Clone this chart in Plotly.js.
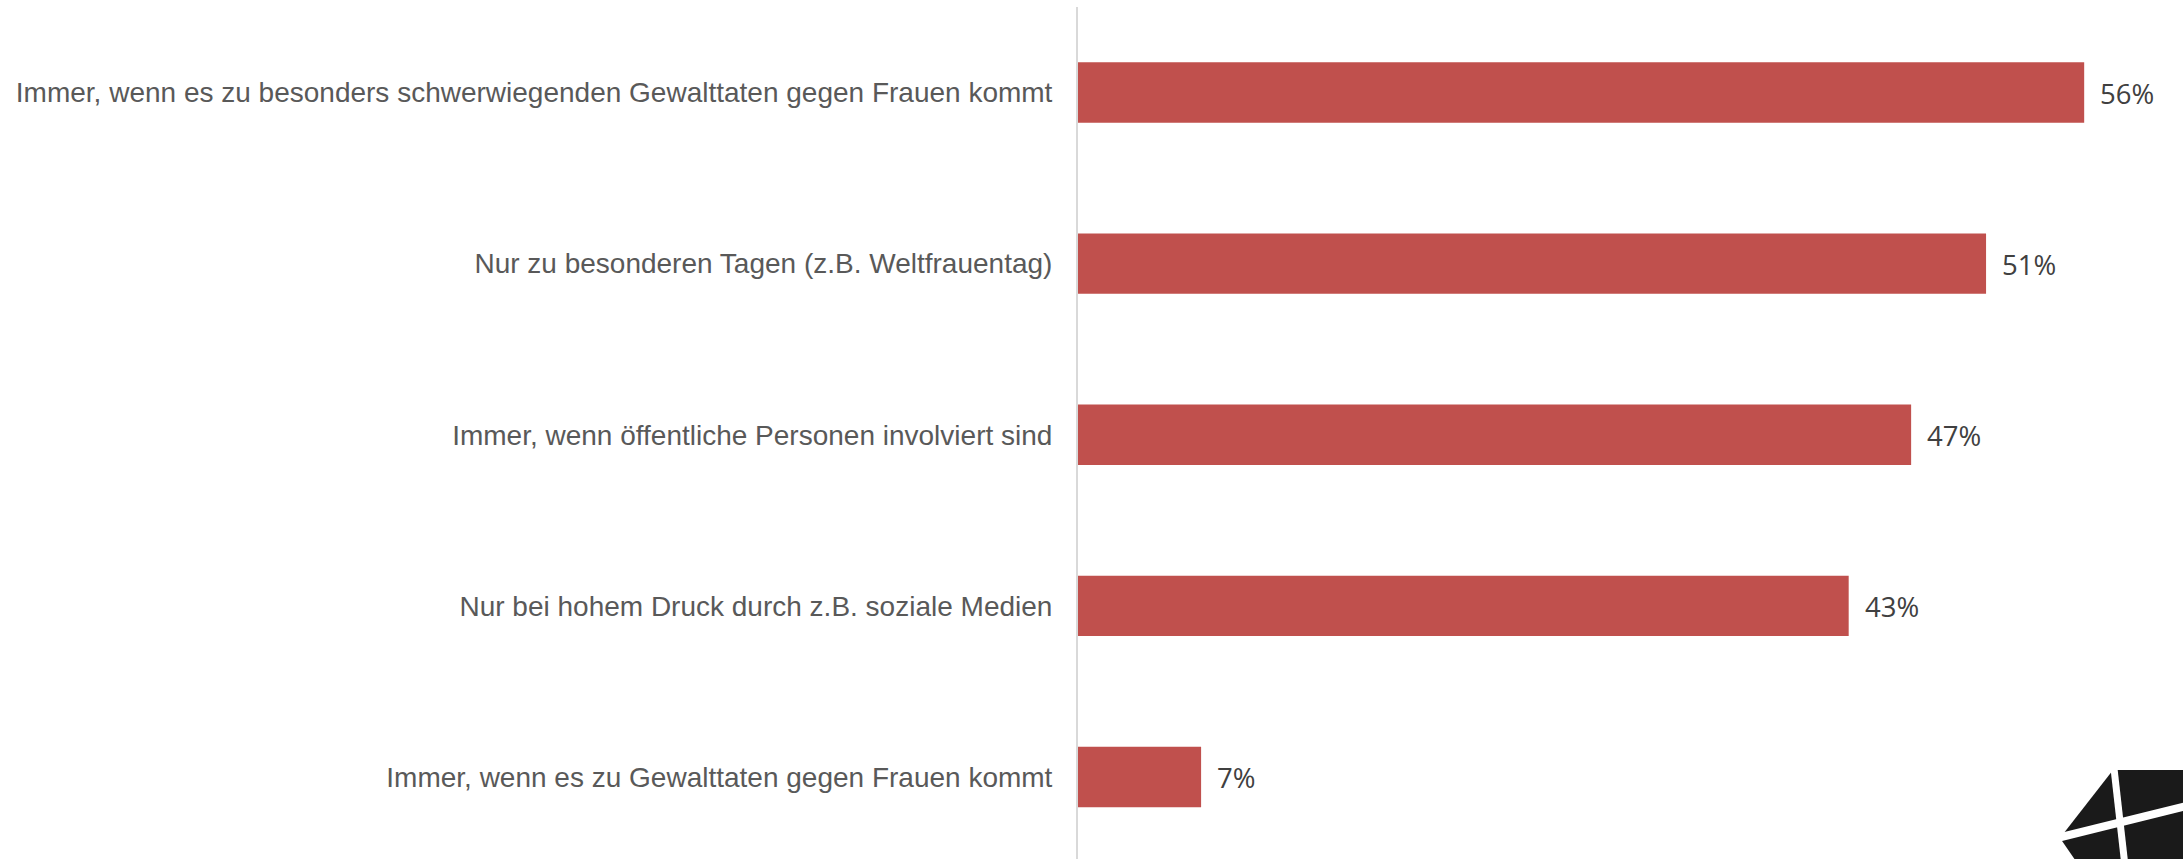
<!DOCTYPE html>
<html>
<head>
<meta charset="utf-8">
<script src="https://cdn.plot.ly/plotly-3.0.1.min.js"></script>
<style>
  html, body { margin: 0; padding: 0; background: #ffffff; }
  #chart { width: 2183px; height: 859px; }
</style>
</head>
<body>
<div id="chart"></div>
<script>
// ---- Data ----
const categories = [
  "Immer, wenn es zu besonders schwerwiegenden Gewalttaten gegen Frauen kommt",
  "Nur zu besonderen Tagen (z.B. Weltfrauentag)",
  "Immer, wenn öffentliche Personen involviert sind",
  "Nur bei hohem Druck durch z.B. soziale Medien",
  "Immer, wenn es zu Gewalttaten gegen Frauen kommt"
];
const values = [56.4, 50.9, 46.7, 43.2, 6.9];
const valueLabels = ["56%", "51%", "47%", "43%", "7%"];

// ---- Layout geometry ----
const W = 2183, H = 859;
const mL = 1078, mR = 5, mT = 7, mB = 0;
const plotW = W - mL - mR, plotH = H - mT - mB;
const pxPerUnit = 17.84;
const xMax = plotW / pxPerUnit;
const catPx = 171.1;
const yBottom = -0.5 + plotH / catPx;

function px(x) { return (x - mL) / plotW; }
function py(y) { return (H - mB - y) / plotH; }

const trace = {
  type: "bar",
  orientation: "h",
  x: values,
  y: categories,
  marker: { color: "#C0504D", line: { width: 0 } },
  hoverinfo: "none",
  cliponaxis: false
};

const annotations = categories.map((c, i) => ({
  x: values[i],
  y: c,
  xref: "x",
  yref: "y",
  text: valueLabels[i],
  showarrow: false,
  xanchor: "left",
  yanchor: "middle",
  xshift: 14,
  yshift: -1,
  font: { family: "Open Sans, Noto Sans, sans-serif", size: 27.5, color: "#404040" }
}));

function pathFromPts(pts) {
  return "M " + pts.map(p => px(p[0]).toFixed(5) + "," + py(p[1]).toFixed(5)).join(" L ") + " Z";
}
function linePath(a, b) {
  return "M " + px(a[0]).toFixed(5) + "," + py(a[1]).toFixed(5) +
         " L " + px(b[0]).toFixed(5) + "," + py(b[1]).toFixed(5);
}

const shapes = [
  {
    type: "path", xref: "paper", yref: "paper", layer: "above",
    path: pathFromPts([[2113, 770], [2190, 770], [2190, 870], [2082, 870], [2060, 838]]),
    fillcolor: "#1a1a1a", line: { width: 0 }
  },
  {
    type: "path", xref: "paper", yref: "paper", layer: "above",
    path: linePath([2112.5, 755], [2126, 875]),
    line: { color: "#ffffff", width: 7 }
  },
  {
    type: "path", xref: "paper", yref: "paper", layer: "above",
    path: linePath([2045, 841], [2195, 804]),
    line: { color: "#ffffff", width: 8 }
  }
];

const layout = {
  width: W,
  height: H,
  margin: { l: mL, r: mR, t: mT, b: mB, pad: 0 },
  paper_bgcolor: "#ffffff",
  plot_bgcolor: "#ffffff",
  showlegend: false,
  bargap: 0.647,
  xaxis: {
    range: [0, xMax],
    visible: false,
    showgrid: false,
    zeroline: false,
    fixedrange: true
  },
  yaxis: {
    type: "category",
    range: [yBottom, -0.5],
    showline: true,
    linecolor: "#d9d9d9",
    linewidth: 2,
    showgrid: false,
    zeroline: false,
    ticks: "",
    ticklabelstandoff: 18,
    tickfont: { family: "Liberation Sans, Arial, sans-serif", size: 28, color: "#595959" },
    fixedrange: true
  },
  annotations: annotations,
  shapes: shapes
};

Plotly.newPlot("chart", [trace], layout, { displayModeBar: false, staticPlot: true });
</script>
</body>
</html>
